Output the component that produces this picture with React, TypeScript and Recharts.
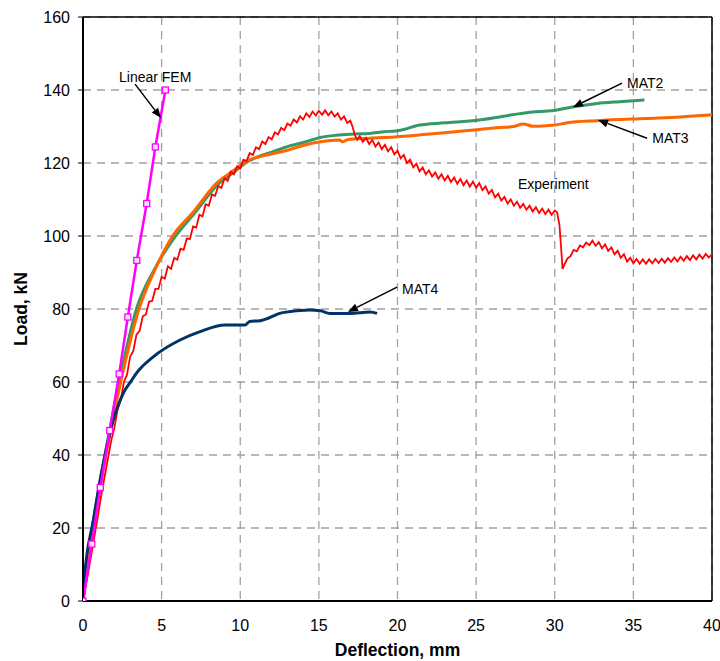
import React from 'react';
import { LineChart, Line, XAxis, YAxis, CartesianGrid, ReferenceLine, ReferenceDot } from 'recharts';

const xTicks = [0, 5, 10, 15, 20, 25, 30, 35, 40];
const yTicks = [0, 20, 40, 60, 80, 100, 120, 140, 160];

const linearX = [0, 0.56, 1.1, 1.7, 2.3, 2.85, 3.42, 4.05, 4.6, 5.24];
const linearY = [0, 15.6, 31.1, 46.7, 62.2, 77.8, 93.3, 108.9, 124.4, 140];

const mat2X = [0, 0.6, 1.4, 2.3, 3.4, 4.5, 5.8, 7.1, 8.6, 9.6, 10.4, 11.3, 12, 13, 14, 15.1, 16.1, 17, 18.25, 19, 20.2, 21.4, 23, 25.2, 27.3, 28.6, 29.8, 31.2, 32.7, 34.1, 35.7];
const mat2Y = [0, 20, 40, 60, 80, 90.5, 99.5, 106.3, 114.2, 117.5, 120.2, 122, 123, 124.5, 125.6, 127, 127.6, 127.9, 128.1, 128.5, 129, 130.4, 131, 131.8, 133.2, 134, 134.3, 135.4, 136.3, 136.8, 137.3];

const mat3X = [0, 0.64, 1.46, 2.4, 3.56, 4.6, 5.7, 7.0, 8.5, 9.6, 10.4, 11.3, 12.1, 13, 14, 15.1, 16.3, 16.5, 16.8, 18.25, 20, 21.4, 23, 25.2, 26.5, 27.4, 28, 28.6, 29, 30, 30.8, 32.7, 35.8, 38, 40];
const mat3Y = [0, 20, 40, 60, 80, 91, 100, 106.5, 114.5, 118, 120.5, 121.8, 122.6, 123.5, 124.8, 125.8, 126.3, 125.8, 126.4, 126.8, 127.2, 127.7, 128.3, 129.2, 129.7, 130, 130.7, 130.1, 130.1, 130.4, 131, 131.6, 132.2, 132.6, 133.2];

const mat4X = [0, 0.08, 0.66, 1.29, 1.93, 2.56, 3.1, 3.31, 4.47, 6.17, 7.44, 9.03, 10.3, 10.6, 11.26, 12.7, 14.4, 15.1, 15.7, 17, 18.25, 18.7];
const mat4Y = [0, 5.8, 22.2, 37.7, 49.6, 56.9, 60.5, 61.9, 66.9, 71.5, 73.8, 75.6, 75.6, 76.6, 76.8, 79, 79.7, 79.5, 78.8, 78.8, 79.2, 78.8];

const expX = [
  0, 0.3, 0.6, 0.9, 1.2, 1.5, 1.8, 2.0, 2.2, 2.4, 2.6, 2.8, 3.0, 3.2, 3.4, 3.6, 3.8, 4.0, 4.2, 4.4,
  4.6, 4.8, 5.0, 5.2, 5.4, 5.6, 5.8, 6.0, 6.2, 6.4, 6.6, 6.8, 7.0, 7.2, 7.4, 7.6, 7.8, 8.0, 8.2, 8.4,
  8.6, 8.8, 9.0, 9.2, 9.4, 9.6, 9.8, 10.0, 10.2, 10.4, 10.6, 10.8, 11.0, 11.2, 11.4, 11.6, 11.8, 12.0, 12.2, 12.4,
  12.6, 12.8, 13.0, 13.2, 13.4, 13.6, 13.8, 14.0, 14.2, 14.4, 14.6, 14.8, 15.0, 15.2, 15.4, 15.6, 15.8, 16.0, 16.2, 16.4,
  16.6, 16.8, 17.0, 17.15, 17.3, 17.45, 17.6, 17.8, 18.0, 18.2, 18.4, 18.6, 18.8, 19.0, 19.2, 19.4, 19.6, 19.8, 20.0, 20.2,
  20.4, 20.6, 20.8, 21.0, 21.2, 21.4, 21.6, 21.8, 22.0, 22.2, 22.4, 22.6, 22.8, 23.0, 23.2, 23.4, 23.6, 23.8, 24.0, 24.2,
  24.4, 24.6, 24.8, 25.0, 25.2, 25.4, 25.6, 25.8, 26.0, 26.2, 26.4, 26.6, 26.8, 27.0, 27.2, 27.4, 27.6, 27.8, 28.0, 28.2,
  28.4, 28.6, 28.8, 29.0, 29.2, 29.4, 29.6, 29.8, 30.0, 30.15, 30.3, 30.4, 30.5, 30.6, 30.8, 31.0, 31.2, 31.4, 31.6, 31.8,
  32.0, 32.2, 32.4, 32.6, 32.8, 33.0, 33.2, 33.4, 33.6, 33.8, 34.0, 34.2, 34.4, 34.6, 34.8, 35.0, 35.2, 35.4, 35.6, 35.8,
  36.0, 36.2, 36.4, 36.6, 36.8, 37.0, 37.2, 37.4, 37.6, 37.8, 38.0, 38.2, 38.4, 38.6, 38.8, 39.0, 39.2, 39.4, 39.6, 39.8, 40.0,
];
const expY = [
  0, 7, 14.5, 22, 30, 37, 44, 47.5, 52.5, 55, 60, 62, 67, 68.5, 73, 74, 78, 78.5, 82, 82.2,
  85.5, 85.5, 88.8, 88.3, 91.7, 91, 94, 93.5, 96.5, 96.2, 99.3, 99.2, 102.6, 102.3, 105.8, 105.4, 108.7, 108.3, 111.4, 111,
  113.7, 113.2, 115.8, 115.1, 117.6, 116.9, 119.1, 118.5, 120.9, 120.5, 122.7, 122.2, 124.3, 123.8, 125.9, 125.2, 127.1, 126.5, 128.4, 127.8,
  129.6, 129.0, 130.8, 130.2, 131.9, 131.1, 132.8, 131.9, 133.6, 132.6, 134.1, 133.0, 134.3, 133.2, 134.4, 133.1, 134.1, 132.7, 133.6, 131.9,
  132.8, 131.0, 131.6, 129.8, 127.5, 126.4, 127.4, 125.8, 126.9, 125.2, 126.3, 124.5, 125.6, 123.8, 125.0, 123.2, 124.3, 122.4, 123.4, 121.3,
  122.2, 120.0, 120.9, 118.8, 119.8, 117.7, 118.8, 116.9, 118.0, 116.3, 117.4, 115.7, 116.9, 115.2, 116.5, 114.8, 116.0, 114.3, 115.6, 113.9,
  115.2, 113.5, 114.9, 113.2, 114.5, 112.6, 113.6, 111.6, 112.6, 110.6, 111.6, 109.7, 110.7, 108.9, 110.0, 108.3, 109.4, 107.7, 108.8, 107.2,
  108.3, 106.7, 107.9, 106.3, 107.5, 106.0, 107.2, 105.8, 107.0, 106.5, 103.0, 97.0, 91.0, 92.0, 93.8, 94.5, 96.2, 95.8, 97.4, 96.9,
  98.2, 97.5, 98.7, 97.3, 98.3, 96.6, 97.7, 95.9, 96.9, 95.0, 96.0, 94.0, 95.0, 93.0, 94.0, 92.5, 93.7, 92.4, 93.6, 92.4,
  93.6, 92.5, 93.7, 92.6, 93.8, 92.7, 93.9, 92.9, 94.1, 93.0, 94.3, 93.2, 94.5, 93.4, 94.7, 93.6, 94.9, 93.8, 95.1, 94.1, 95.0,
];

// annotation texts (anchor in data units) and arrows (from -> to, data units)
const labelTexts = ['Linear FEM', 'MAT2', 'MAT3', 'Experiment', 'MAT4'];
const labelAnchors: [number, number][] = [[2.29, 142.2], [34.6, 140.5], [36.2, 125.6], [27.66, 112.9], [20.29, 84.1]];
const arrows: [number, number, number, number][] = [
  [3.31, 141.6, 4.96, 132.3],
  [34.28, 141.9, 31.16, 135.3],
  [35.87, 126.8, 32.75, 131.8],
  [19.97, 86.0, 16.85, 79.2],
];

const rows = (xs: number[], ys: number[]) => xs.map((x, i) => ({ x, y: ys[i] }));
const linearData = rows(linearX, linearY);
const mat2Data = rows(mat2X, mat2Y);
const mat3Data = rows(mat3X, mat3Y);
const mat4Data = rows(mat4X, mat4Y);
const expData = rows(expX, expY);

const FONT = "Arial, 'Liberation Sans', sans-serif";

const ArrowShape = (p: any) => {
  const { x1, y1, x2, y2 } = p;
  const ang = Math.atan2(y2 - y1, x2 - x1);
  const len = 10;
  const hw = 4;
  const bx = x2 - len * Math.cos(ang);
  const by = y2 - len * Math.sin(ang);
  const px = -Math.sin(ang) * hw;
  const py = Math.cos(ang) * hw;
  return (
    <g>
      <line x1={x1} y1={y1} x2={bx} y2={by} stroke="#000" strokeWidth={1.5} />
      <polygon points={`${x2},${y2} ${bx + px},${by + py} ${bx - px},${by - py}`} fill="#000" />
    </g>
  );
};

const SquareDot = (p: any) => {
  const { cx, cy, index } = p;
  return <rect key={index} x={cx - 3} y={cy - 3} width={6} height={6} fill="#ffe6ff" stroke="#ff00ff" strokeWidth={1.3} />;
};

const YTitle = (p: any) => {
  const vb = p.viewBox || { x: 0, y: 17, width: 83, height: 584 };
  const cx = 21;
  const cy = vb.y + vb.height / 2;
  return (
    <text x={cx} y={cy} transform={`rotate(-90, ${cx}, ${cy})`} textAnchor="middle" dominantBaseline="central"
      fontFamily={FONT} fontWeight="bold" fontSize={17.5} fill="#000">Load, kN</text>
  );
};

export default function App() {
  return (
    <div style={{ position: 'absolute', left: 0, top: 0, background: '#fff' }}>
      <LineChart width={720} height={661} margin={{ top: 17, right: 8, bottom: 0, left: 0 }}>
        <CartesianGrid stroke="#a0a0a0" strokeDasharray="8 6" strokeWidth={1.3} />
        <XAxis type="number" dataKey="x" domain={[0, 40]} ticks={xTicks} allowDataOverflow
          height={60} tickLine={false} tickSize={6} tickMargin={13}
          axisLine={{ stroke: '#000', strokeWidth: 2 }}
          tick={{ fill: '#000', fontSize: 16, fontFamily: FONT }}
          label={{ value: 'Deflection, mm', position: 'insideBottom', offset: 5, fill: '#000', fontSize: 17.5, fontWeight: 'bold', fontFamily: FONT }} />
        <YAxis type="number" domain={[0, 160]} ticks={yTicks} allowDataOverflow width={83}
          tickSize={5} tickMargin={8}
          tickLine={{ stroke: '#000', strokeWidth: 1 }}
          axisLine={{ stroke: '#000', strokeWidth: 2 }}
          tick={{ fill: '#000', fontSize: 16, fontFamily: FONT }}
          label={<YTitle />} />
        <ReferenceLine y={160} stroke="#000" strokeWidth={1.5} />
        <ReferenceLine x={40} stroke="#000" strokeWidth={1.5} />
        <Line data={mat2Data} dataKey="y" type="monotone" stroke="#339966" strokeWidth={3} dot={false} isAnimationActive={false} />
        <Line data={mat3Data} dataKey="y" type="monotone" stroke="#ff6600" strokeWidth={3} dot={false} isAnimationActive={false} />
        <Line data={expData} dataKey="y" type="linear" stroke="#ff0000" strokeWidth={1.8} dot={false} isAnimationActive={false} />
        <Line data={mat4Data} dataKey="y" type="monotone" stroke="#003366" strokeWidth={3} dot={false} isAnimationActive={false} />
        <Line data={linearData} dataKey="y" type="linear" stroke="#ff00ff" strokeWidth={2.5} dot={<SquareDot />} isAnimationActive={false} />
        {arrows.map((a, i) => (
          <ReferenceLine key={'a' + i} segment={[{ x: a[0], y: a[1] }, { x: a[2], y: a[3] }]} shape={ArrowShape} ifOverflow="visible" />
        ))}
        {labelTexts.map((t, i) => (
          <ReferenceDot key={'t' + i} x={labelAnchors[i][0]} y={labelAnchors[i][1]} r={0} ifOverflow="visible"
            shape={(p: any) => (
              <text x={p.cx} y={p.cy} fontFamily={FONT} fontSize={14} fill="#000">{t}</text>
            )} />
        ))}
      </LineChart>
    </div>
  );
}
